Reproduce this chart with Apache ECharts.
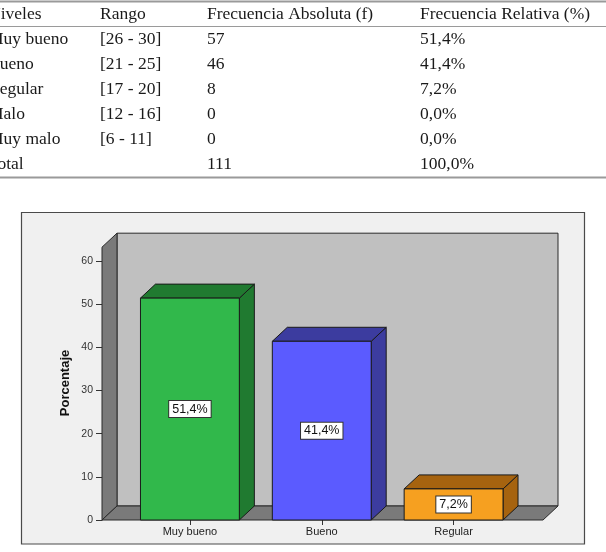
<!DOCTYPE html>
<html>
<head>
<meta charset="utf-8">
<script src="https://cdn.jsdelivr.net/npm/echarts@6/dist/echarts.min.js"></script>
<style>
  html, body { margin: 0; padding: 0; background: #ffffff; }
  #chart { width: 606px; height: 552px; }
</style>
</head>
<body>
<div id="chart"></div>
<script>
// ---- Table data ----
const tableHeaders = ['Niveles', 'Rango', 'Frecuencia Absoluta (f)', 'Frecuencia Relativa (%)'];
const niveles = ['Muy bueno', 'Bueno', 'Regular', 'Malo', 'Muy malo', 'Total'];
const rangos = ['[26 - 30]', '[21 - 25]', '[17 - 20]', '[12 - 16]', '[6 - 11]', ''];
const frecAbsoluta = [57, 46, 8, 0, 0, 111];
const frecRelativa = [51.4, 41.4, 7.2, 0.0, 0.0, 100.0];

// ---- Chart data ----
const categories = ['Muy bueno', 'Bueno', 'Regular'];
const porcentajes = [51.4, 41.4, 7.2];
const yAxisTitle = 'Porcentaje';

// ---- styles ----
const frontColors = ['#31b84b', '#5b5bff', '#f6a020'];
const darkColors = ['#207a30', '#3c3c9f', '#a6630f'];

function fmtPct(v) { return v.toFixed(1).replace('.', ',') + '%'; }

const chart = echarts.init(document.getElementById('chart'), null, { renderer: 'canvas' });

// Table graphics
const colX = [-12, 100, 207, 420];
const rowY0 = 14, rowStep = 25;
const serif = '17.5px "Liberation Serif", "Times New Roman", serif';
const tableEls = [];
function addText(x, y, t) {
  tableEls.push({ type: 'text', x: x, y: y, style: { text: t, font: serif, fill: '#1a1a1a', align: 'left', verticalAlign: 'middle' } });
}
tableHeaders.forEach((h, i) => addText(colX[i], rowY0, h));
niveles.forEach((n, r) => {
  const y = rowY0 + (r + 1) * rowStep;
  addText(colX[0], y, n);
  addText(colX[1], y, rangos[r]);
  addText(colX[2], y, String(frecAbsoluta[r]));
  addText(colX[3], y, fmtPct(frecRelativa[r]));
});
[1.5, 26.5, 177.5].forEach(y => {
  tableEls.push({ type: 'line', shape: { x1: 0, y1: y, x2: 606, y2: y }, style: { stroke: '#9a9a9a', lineWidth: y === 26.5 ? 1.2 : 2 } });
});

// Chart frame
const frameEl = { type: 'rect', z: -10, shape: { x: 21.5, y: 212.5, width: 563, height: 331.5 }, style: { fill: '#f0f0f0', stroke: '#4a4a4a', lineWidth: 1.2 } };
const titleEl = { type: 'text', x: 65, y: 383, rotation: Math.PI / 2, z: 5,
  style: { text: yAxisTitle, font: 'bold 13px "Liberation Sans", Arial, sans-serif', fill: '#111', align: 'center', verticalAlign: 'middle' } };

const DX = 15, DY = -14;
const WALL_TOP = 63.2;
const PAD_L = 22, PAD_R = 23.5;

function wallsRender(params, api) {
  const cs = params.coordSys;
  const y0 = api.coord([0, 0])[1];
  const yT = api.coord([0, WALL_TOP])[1];
  const xl = cs.x - PAD_L, xr = cs.x + cs.width + PAD_R;
  const stroke = '#2a2a2a';
  return {
    type: 'group',
    children: [
      { type: 'rect', shape: { x: xl + DX, y: yT + DY, width: xr - xl, height: y0 - yT },
        style: { fill: '#c0c0c0', stroke: stroke, lineWidth: 1 } },
      { type: 'polygon', shape: { points: [[xl, y0], [xl, yT], [xl + DX, yT + DY], [xl + DX, y0 + DY]] },
        style: { fill: '#7a7a7a', stroke: stroke, lineWidth: 1 } },
      { type: 'polygon', shape: { points: [[xl, y0], [xr, y0], [xr + DX, y0 + DY], [xl + DX, y0 + DY]] },
        style: { fill: '#7a7a7a', stroke: stroke, lineWidth: 1 } }
    ]
  };
}

function barRender(params, api) {
  const idx = params.dataIndex;
  const top = api.coord([api.value(0), api.value(1)]);
  const base = api.coord([api.value(0), 0]);
  const bw = api.size([1, 0])[0] * 0.75;
  const x = top[0] - bw / 2, y = top[1], yb = base[1];
  const stroke = '#1a1a1a';
  return {
    type: 'group',
    children: [
      { type: 'polygon', shape: { points: [[x + bw, y], [x + bw + DX, y + DY], [x + bw + DX, yb + DY], [x + bw, yb]] },
        style: { fill: darkColors[idx], stroke: stroke, lineWidth: 1 } },
      { type: 'polygon', shape: { points: [[x, y], [x + DX, y + DY], [x + bw + DX, y + DY], [x + bw, y]] },
        style: { fill: darkColors[idx], stroke: stroke, lineWidth: 1 } },
      { type: 'rect', shape: { x: x, y: y, width: bw, height: yb - y },
        style: { fill: frontColors[idx], stroke: stroke, lineWidth: 1 } },
      { type: 'text', x: top[0], y: (y + yb) / 2,
        style: { text: fmtPct(api.value(1)), font: '12.5px "Liberation Sans", Arial, sans-serif', fill: '#111',
          align: 'center', verticalAlign: 'middle', backgroundColor: '#ffffff', borderColor: '#333333', borderWidth: 1,
          padding: [2, 3, 1, 3] } }
    ]
  };
}

chart.setOption({
  animation: false,
  backgroundColor: '#ffffff',
  graphic: { elements: [frameEl, titleEl].concat(tableEls) },
  grid: { left: 124, right: 86.5, top: 261, bottom: 32, containLabel: false },
  xAxis: {
    type: 'category', data: categories,
    axisLine: { show: false },
    axisTick: { show: true, alignWithLabel: true, length: 5, lineStyle: { color: '#333' } },
    axisLabel: { fontSize: 11, color: '#222', margin: 6, fontFamily: '"Liberation Sans", Arial, sans-serif' },
    splitLine: { show: false }
  },
  yAxis: {
    type: 'value', min: 0, max: 60, interval: 10, offset: 22,
    axisLine: { show: true, lineStyle: { color: '#2a2a2a' } },
    axisTick: { show: true, length: 6, lineStyle: { color: '#333' } },
    axisLabel: { fontSize: 10.5, color: '#333', margin: 9, fontFamily: '"Liberation Sans", Arial, sans-serif' },
    splitLine: { show: false }
  },
  series: [
    { type: 'custom', z: 1, silent: true, renderItem: wallsRender, data: [[0, 0]], encode: { x: 0, y: 1 } },
    { type: 'custom', z: 3, renderItem: barRender,
      data: categories.map((c, i) => [i, porcentajes[i]]), encode: { x: 0, y: 1 } }
  ]
});
</script>
</body>
</html>
